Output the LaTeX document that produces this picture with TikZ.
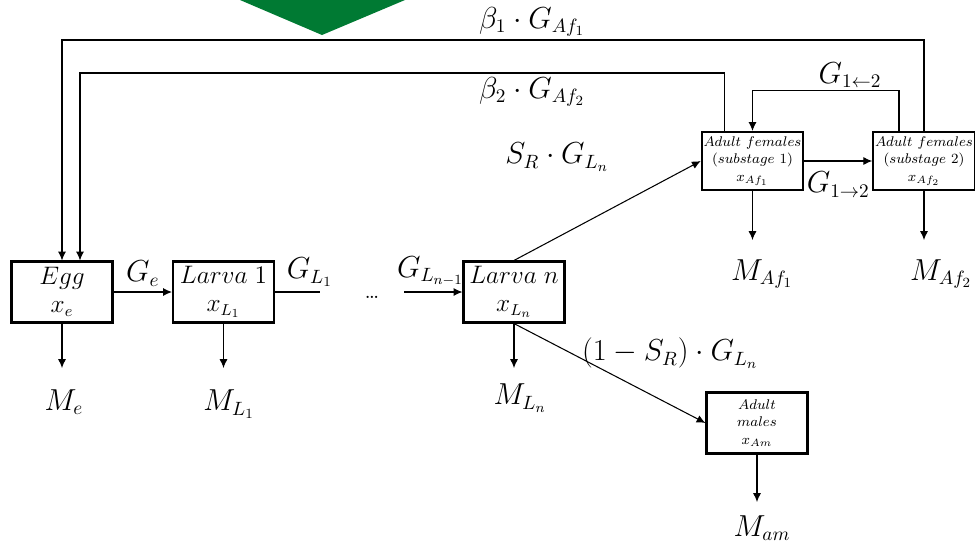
\documentclass[tikz,border=0pt]{standalone}
\usepackage{amsmath,amssymb}
\usepackage{tikz}
\usetikzlibrary{arrows.meta,calc}
\definecolor{bannergreen}{RGB}{0,122,51}

\begin{document}
\begin{tikzpicture}[x=0.02cm,y=-0.02cm,
    stage/.style={draw,line width=1.2pt,minimum width=2.02cm,minimum height=1.22cm,
      inner sep=1pt,align=center,font=\fontsize{13.5}{16}\selectfont},
    smallstage/.style={stage,minimum height=1.16cm,font=\fontsize{8.2}{10}\selectfont},
    flow/.style={line width=0.6pt,-{Latex[length=5pt,width=4.5pt]}},
    rate/.style={inner sep=1pt,font=\fontsize{16}{19}\selectfont}]
          \useasboundingbox (0,0) rectangle (975,545);
          \fill[bannergreen] (240,0) -- (405,0) -- (322,35) -- cycle;

          % Stages
          \node[stage] (egg) at (62,292) {$Egg$\\$x_e$};
          \node[stage] (larva1) at (223.5,292) {$Larva\;1$\\$x_{L_1}$};
          \node[stage] (larvan) at (514,292) {$Larva\;n$\\$x_{L_n}$};
          \node[smallstage] (af1) at (752.5,161) {$Adult\ females$\\$(substage\ 1)$\\$x_{Af_1}$};
          \node[smallstage] (af2) at (924,161) {$Adult\ females$\\$(substage\ 2)$\\$x_{Af_2}$};
          \node[smallstage,minimum height=1.22cm] (am) at (757,423) {$Adult$\\$males$\\$x_{Am}$};

          % Mortality
          \node[rate] (me) at (64,402) {$M_e$};
          \node[rate] (ml1) at (229,404) {$M_{L_1}$};
          \node[rate] (mln) at (520,398) {$M_{L_n}$};
          \node[rate] (maf1) at (762,274) {$M_{Af_1}$};
          \node[rate] (maf2) at (941,274) {$M_{Af_2}$};
          \node[rate] (mam) at (762,528) {$M_{am}$};
          \draw[flow] (egg.south) -- (egg.south |- 0,368);
          \draw[flow] (larva1.south) -- (larva1.south |- 0,368);
          \draw[flow] (larvan.south) -- (larvan.south |- 0,368);
          \draw[flow] (af1.south) -- (af1.south |- 0,240);
          \draw[flow] (af2.south) -- (af2.south |- 0,240);
          \draw[flow] (am.south) -- (am.south |- 0,502);

          % Development
          \coordinate (l1end) at (320,292);
          \coordinate (lnstart) at (404,292);
          \node (dots) at (372,297) {\fontsize{13}{13}\selectfont\dots};
          \draw[flow] (egg) -- (larva1) node[rate,midway,above=2pt] {$G_e$};
          \draw[line width=0.6pt] (larva1) -- (l1end) node[rate,pos=0.77,above=2pt] {$G_{L_1}$};
          \draw[flow] (lnstart) -- (larvan) node[rate,pos=0.45,above=2pt] {$G_{L_{n-1}}$};
          \draw[flow] (larvan.north) -- (af1.west);
          \node[rate] (srlab) at (557,157) {$S_R\cdot G_{L_n}$};
          \draw[flow] (larvan.south) -- (am.west);
          \node[rate] (mlab) at (670,353) {$(1-S_R)\cdot G_{L_n}$};
          \draw[flow] (af1) -- (af2) node[rate,midway,below=5pt] {$G_{1\rightarrow2}$};
          \draw[flow] ($(af2.north)+(-25,0)$) -- ++(0,-40) -| (af1.north);
          \node[rate] (backlab) at (850,75) {$G_{1\leftarrow2}$};

          % Reproduction
          \draw[flow] (af2.north) -- (af2.north |- 0,40) -| (egg.north);
          \draw[flow] ($(af1.north)+(-28,0)$) coordinate (b2start) -- (b2start |- 0,73) -| ($(egg.north)+(18,0)$);
          \node[rate] (beta1) at (532,22) {$\beta_1\cdot G_{Af_1}$};
          \node[rate] (beta2) at (532,92) {$\beta_2\cdot G_{Af_2}$};
        \end{tikzpicture}
\end{document}
